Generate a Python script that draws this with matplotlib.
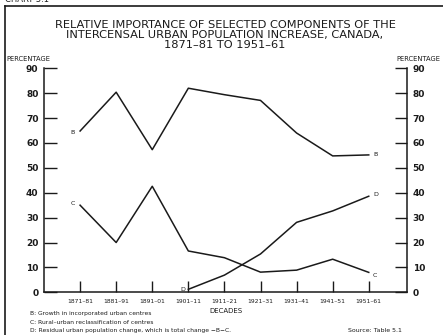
import matplotlib
matplotlib.use("Agg")
import matplotlib.pyplot as plt
from matplotlib.lines import Line2D

# decades on the x axis
decades = ["1871–81", "1881–91", "1891–01", "1901–11", "1911–21",
           "1921–31", "1931–41", "1941–51", "1951–61"]
# B: growth in incorporated urban centres (%)
b_vals = [64.8, 80.4, 57.3, 82.0, 79.4, 77.1, 64.0, 54.8, 55.2]
# C: rural-urban reclassification (%)
c_vals = [35.0, 20.0, 42.6, 16.6, 13.9, 8.1, 8.9, 13.3, 8.0]
# D: residual urban change, starts 1901-11 (%)
d_dec = decades[3:]
d_vals = [1.2, 6.9, 15.4, 28.1, 32.7, 38.6]
yticks = list(range(0, 100, 10))

INK = "#1a1a1a"
plt.rcParams.update({"font.family": "DejaVu Sans"})
fig = plt.figure(figsize=(4.43, 3.35), dpi=100, facecolor="white")
ax = fig.add_axes([44/443, 1-292.3/335, (407-44)/443, (292.3-68.3)/335])

xs = list(range(len(decades)))
xd = [decades.index(d) for d in d_dec]
ax.plot(xs, b_vals, color=INK, lw=1.1)
ax.plot(xs, c_vals, color=INK, lw=1.1)
ax.plot(xd, d_vals, color=INK, lw=1.1)

# series letters at ends
lab = dict(fontsize=4.5, color=INK, textcoords="offset points")
ax.annotate("B", (xs[0], b_vals[0]), xytext=(-4, -1), ha="right", va="center", **lab)
ax.annotate("B", (xs[-1], b_vals[-1]), xytext=(3, 0), ha="left", va="center", **lab)
ax.annotate("C", (xs[0], c_vals[0]), xytext=(-4, 1), ha="right", va="center", **lab)
ax.annotate("C", (xs[-1], c_vals[-1]), xytext=(3, -2), ha="left", va="center", **lab)
ax.annotate("D", (xd[0], d_vals[0]), xytext=(-2, 0), ha="right", va="center", **lab)
ax.annotate("D", (xd[-1], d_vals[-1]), xytext=(3, 1), ha="left", va="center", **lab)

ax.set_xlim(-1, 9.06)
ax.set_ylim(0, 90)
ax.spines["top"].set_visible(False)
for s in ("left", "right", "bottom"):
    ax.spines[s].set_color(INK)
    ax.spines[s].set_linewidth(1.1)

ax.set_yticks(yticks)
ax.set_yticklabels([str(v) for v in yticks], weight="bold")
ax.tick_params(axis="y", which="both", direction="in", length=9, width=1.0,
               color=INK, labelsize=6.5, labelcolor=INK, pad=4,
               left=True, right=True, labelleft=True, labelright=True)
ax.set_xticks(xs)
ax.set_xticklabels(decades)
ax.tick_params(axis="x", direction="in", length=8, width=1.0, color=INK,
               labelsize=4.3, labelcolor=INK, pad=5)
ax.set_xlabel("DECADES", fontsize=5, color=INK, labelpad=3)

fig.text(6/443, 1-59/335, "PERCENTAGE", fontsize=4.9, ha="left", va="center", color=INK)
fig.text(440/443, 1-59/335, "PERCENTAGE", fontsize=4.9, ha="right", va="center", color=INK)

fig.text(225/443, 1-35/335,
         "RELATIVE IMPORTANCE OF SELECTED COMPONENTS OF THE\n"
         "INTERCENSAL URBAN POPULATION INCREASE, CANADA,\n"
         "1871–81 TO 1951–61",
         fontsize=8.2, ha="center", va="center", color=INK, linespacing=0.95)

fig.text(30/443, 1-314/335, "B: Growth in incorporated urban centres",
         fontsize=4.3, va="center", color=INK)
fig.text(30/443, 1-322.7/335, "C: Rural–urban reclassification of centres",
         fontsize=4.3, va="center", color=INK)
fig.text(30/443, 1-330.7/335, "D: Residual urban population change, which is total change −B−C.",
         fontsize=4.3, va="center", color=INK)
fig.text(348/443, 1-331/335, "Source: Table 5.1", fontsize=4.5,
         va="center", color=INK)

fig.text(0.012, 1.0, "CHART 5.1", fontsize=6, va="center", color=INK)
# page frame
fig.add_artist(Line2D([5/443, 1], [1-6/335]*2, transform=fig.transFigure, color=INK, lw=1.2))
fig.add_artist(Line2D([5/443]*2, [0, 1-6/335], transform=fig.transFigure, color=INK, lw=1.2))

fig.savefig("out.png", dpi=100, facecolor="white")
